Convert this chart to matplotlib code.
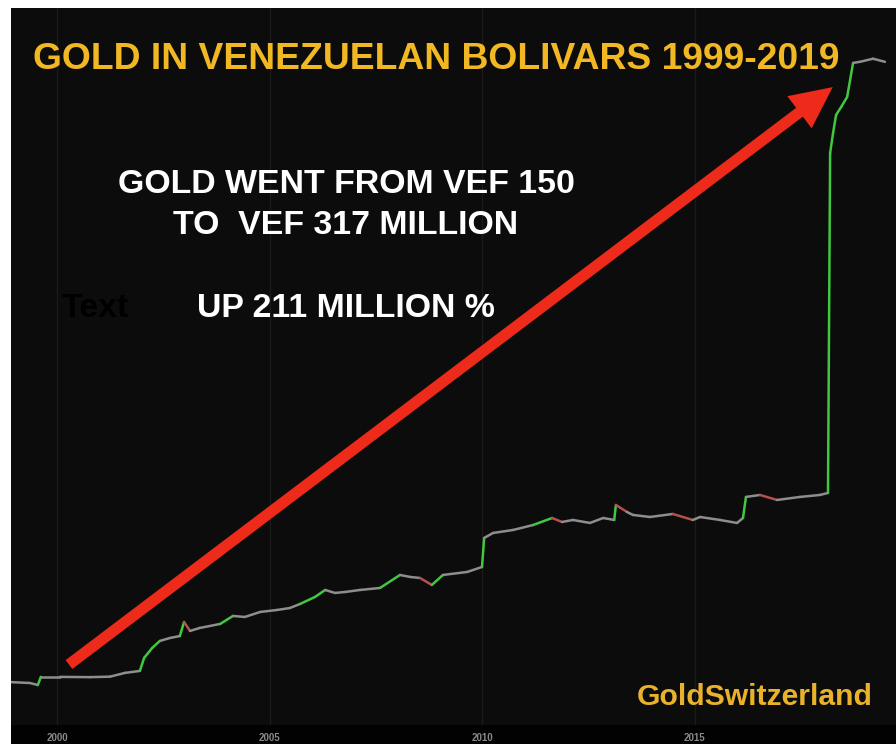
import numpy as np
import matplotlib
matplotlib.use("Agg")
import matplotlib.pyplot as plt
from matplotlib.collections import LineCollection
from matplotlib.patches import FancyArrowPatch, Rectangle, ArrowStyle

plt.rcParams['font.family'] = ['Liberation Sans', 'DejaVu Sans']

# Gold price in VEF (decimal year, price) (log scale)
years = [1998.92, 1999.36, 1999.55, 1999.62, 2000.07, 2000.78, 2001.25, 2001.60,
         2001.95, 2002.05, 2002.24, 2002.42, 2002.66, 2002.89, 2002.99, 2003.13,
         2003.36, 2003.84, 2004.14, 2004.42, 2004.78, 2005.18, 2005.48, 2005.72,
         2006.07, 2006.31, 2006.54, 2006.78, 2007.13, 2007.60, 2008.07, 2008.31,
         2008.54, 2008.82, 2009.08, 2009.65, 2010.00, 2010.05, 2010.26, 2010.73,
         2011.20, 2011.65, 2011.88, 2012.14, 2012.54, 2012.85, 2013.11, 2013.15,
         2013.41, 2013.55, 2013.95, 2014.49, 2014.96, 2015.13, 2015.60, 2016.00,
         2016.14, 2016.21, 2016.54, 2016.94, 2017.48, 2017.95, 2018.14, 2018.19,
         2018.26, 2018.33, 2018.45, 2018.59, 2018.66, 2018.73, 2018.89, 2019.20,
         2019.48]
price = [153, 150, 143, 173, 173, 172, 174, 190,
         199, 270, 341, 402, 431, 451, 627, 508,
         545, 599, 722, 705, 793, 831, 870, 957,
         1127, 1328, 1238, 1267, 1328, 1392, 1888, 1801,
         1760, 1493, 1888, 2025, 2277, 4496, 5053, 5420,
         6087, 7180, 6540, 6855, 6390, 7180, 6855, 9740,
         8270, 7710, 7350, 7890, 6855, 7350, 6855, 6390,
         7180, 11760, 12320, 10950, 11760, 12320, 12910, 3.74e7,
         5.99e7, 9.12e7, 1.10e8, 1.39e8, 2.07e8, 3.09e8, 3.17e8, 3.41e8,
         3.17e8]
tick_years = [2000, 2005, 2010, 2015]

W, H = 896, 744
fig = plt.figure(figsize=(W / 100, H / 100), dpi=100, facecolor='white')
fig.patches.append(Rectangle((11 / W, 0), 885 / W, 19 / H, transform=fig.transFigure,
                             facecolor='#020202', edgecolor='none', zorder=-5))
ax = fig.add_axes([11 / W, 19 / H, 885 / W, 717 / H])
ax.set_facecolor('#0c0c0c')

ax.set_yscale('log')
ax.set_xlim(1998.918, 2019.74)
ax.set_ylim(56, 1.12e9)

# up moves green, down moves red, the rest grey
pts = np.column_stack([years, price])
segs = np.stack([pts[:-1], pts[1:]], axis=1)
ratio = np.array(price[1:]) / np.array(price[:-1])
cols = np.where(ratio > 1.13, '#40c840', np.where(ratio < 0.92, '#b5504f', '#8e8e8e'))
ax.add_collection(LineCollection(segs, colors=cols, linewidths=1.8, capstyle='round',
                                 joinstyle='round', zorder=3))

ax.set_xticks(tick_years)
ax.set_xticklabels([str(y) for y in tick_years], color='#8a8a8a', fontsize=7,
                   fontweight='bold')
ax.tick_params(axis='x', length=0, pad=6)
ax.set_yticks([])
ax.yaxis.set_minor_locator(matplotlib.ticker.NullLocator())
ax.set_axisbelow(True)
ax.grid(True, axis='x', color='#1b1b1b', linewidth=1)
for s in ax.spines.values():
    s.set_visible(False)

arrow = FancyArrowPatch((0.063, 0.082), (0.931, 0.892), transform=ax.transAxes,
                        arrowstyle=ArrowStyle.Simple(head_length=3.0, head_width=2.9,
                                                     tail_width=0.8),
                        mutation_scale=10, color='#ee2a1a', lw=0, zorder=5)
ax.add_patch(arrow)

fig.text(33 / W, 1 - 69 / H, 'GOLD IN VENEZUELAN BOLIVARS 1999-2019', color='#f2b824',
         fontsize=26.8, fontweight='bold', ha='left', va='baseline')
fig.text(346 / W, 1 - 193 / H, 'GOLD WENT FROM VEF 150', color='white',
         fontsize=24.4, fontweight='bold', ha='center', va='baseline')
fig.text(346 / W, 1 - 234 / H, 'TO  VEF 317 MILLION', color='white',
         fontsize=24.4, fontweight='bold', ha='center', va='baseline')
fig.text(346 / W, 1 - 317 / H, 'UP 211 MILLION %', color='white',
         fontsize=24.4, fontweight='bold', ha='center', va='baseline')
fig.text(62 / W, 1 - 317 / H, 'Text', color='#000000',
         fontsize=24.4, fontweight='bold', ha='left', va='baseline')
fig.text(873 / W, 1 - 705 / H, 'GoldSwitzerland', color='#eab22a',
         fontsize=21.7, fontweight='bold', ha='right', va='baseline')

fig.savefig('out.png', dpi=100, facecolor=fig.get_facecolor())
